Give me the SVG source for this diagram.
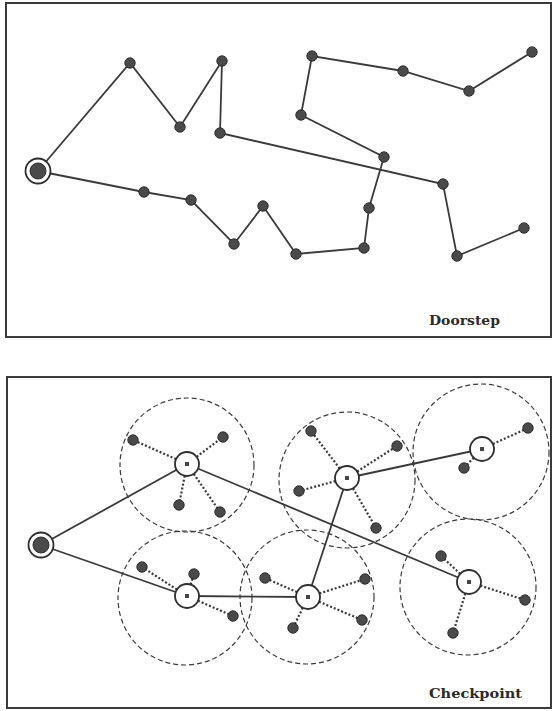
<svg xmlns="http://www.w3.org/2000/svg" width="553" height="711" viewBox="0 0 553 711">
<style>
.panel{fill:#fff;stroke:#3a3a3a;stroke-width:2}
.ln{stroke:#3a3a3a;stroke-width:1.8;fill:none}
.dot{stroke:#3a3a3a;stroke-width:2.2;stroke-dasharray:2 2;fill:none}
.zone{stroke:#3c3c3c;stroke-width:1.2;stroke-dasharray:5 3;fill:none}
.n{fill:#4a4a4a;stroke:#2e2e2e;stroke-width:1}
.startO{fill:#fff;stroke:#2e2e2e;stroke-width:1.8}
.cp{fill:#fff;stroke:#2e2e2e;stroke-width:1.8}
.sq{fill:#444}
.lbl{font-family:"DejaVu Serif",serif;font-weight:bold;font-size:13.5px;fill:#2a2a2a}
</style>
<rect width="553" height="711" fill="#fff"/>
<rect class="panel" x="6" y="3" width="545" height="334"/>
<rect class="panel" x="7" y="377" width="544" height="331"/>

<g id="connectors">
<polyline class="ln" points="38,171 130,63 180,127 222,61 220,133 443,184 457,256 524,228"/>
<polyline class="ln" points="38,171 144,192 191,200 234,244 263,206 296,254 364,248 369,208 384,157 301,115 312,56 403,71 469,91 532,52"/>
<g id="zones">
<circle class="zone" cx="187" cy="465" r="67"/>
<circle class="zone" cx="185" cy="598" r="67"/>
<circle class="zone" cx="307" cy="597" r="67"/>
<circle class="zone" cx="347" cy="480" r="68"/>
<circle class="zone" cx="481" cy="452" r="68"/>
<circle class="zone" cx="468" cy="587" r="68"/>
</g>
<line class="ln" x1="41" y1="545" x2="187" y2="464"/>
<line class="ln" x1="41" y1="545" x2="187" y2="596"/>
<line class="ln" x1="187" y1="464" x2="469" y2="582"/>
<line class="ln" x1="187" y1="596" x2="308" y2="597"/>
<line class="ln" x1="308" y1="597" x2="347" y2="478"/>
<line class="ln" x1="347" y1="478" x2="482" y2="449"/>
<path class="dot" d="M187,464L133,440M187,464L223,437M187,464L179,505M187,464L220,512"/>
<path class="dot" d="M187,596L142,567M187,596L194,574M187,596L233,616"/>
<path class="dot" d="M308,597L265,578M308,597L365,579M308,597L362,620M308,597L293,628"/>
<path class="dot" d="M347,478L311,431M347,478L397,446M347,478L299,491M347,478L376,528"/>
<path class="dot" d="M482,449L528,428M482,449L464,468"/>
<path class="dot" d="M469,582L441,556M469,582L525,600M469,582L453,633"/>
</g>

<g id="doorstep-start"><circle class="startO" cx="38" cy="171" r="12.5"/><circle class="n" cx="38" cy="171" r="8"/></g>
<g id="doorstep-nodes">
<circle class="n" cx="130" cy="63" r="5.2"/>
<circle class="n" cx="180" cy="127" r="5.2"/>
<circle class="n" cx="222" cy="61" r="5.2"/>
<circle class="n" cx="220" cy="133" r="5.2"/>
<circle class="n" cx="443" cy="184" r="5.2"/>
<circle class="n" cx="457" cy="256" r="5.2"/>
<circle class="n" cx="524" cy="228" r="5.2"/>
<circle class="n" cx="144" cy="192" r="5.2"/>
<circle class="n" cx="191" cy="200" r="5.2"/>
<circle class="n" cx="234" cy="244" r="5.2"/>
<circle class="n" cx="263" cy="206" r="5.2"/>
<circle class="n" cx="296" cy="254" r="5.2"/>
<circle class="n" cx="364" cy="248" r="5.2"/>
<circle class="n" cx="369" cy="208" r="5.2"/>
<circle class="n" cx="384" cy="157" r="5.2"/>
<circle class="n" cx="301" cy="115" r="5.2"/>
<circle class="n" cx="312" cy="56" r="5.2"/>
<circle class="n" cx="403" cy="71" r="5.2"/>
<circle class="n" cx="469" cy="91" r="5.2"/>
<circle class="n" cx="532" cy="52" r="5.2"/>
</g>
<text class="lbl" x="429" y="325" textLength="71" lengthAdjust="spacingAndGlyphs">Doorstep</text>

<g id="checkpoint-start"><circle class="startO" cx="41" cy="545" r="12.5"/><circle class="n" cx="41" cy="545" r="8"/></g>
<g id="checkpoint-satellites">
<circle class="n" cx="133" cy="440" r="5.2"/><circle class="n" cx="223" cy="437" r="5.2"/><circle class="n" cx="179" cy="505" r="5.2"/><circle class="n" cx="220" cy="512" r="5.2"/>
<circle class="n" cx="142" cy="567" r="5.2"/><circle class="n" cx="194" cy="574" r="5.2"/><circle class="n" cx="233" cy="616" r="5.2"/>
<circle class="n" cx="265" cy="578" r="5.2"/><circle class="n" cx="365" cy="579" r="5.2"/><circle class="n" cx="362" cy="620" r="5.2"/><circle class="n" cx="293" cy="628" r="5.2"/>
<circle class="n" cx="311" cy="431" r="5.2"/><circle class="n" cx="397" cy="446" r="5.2"/><circle class="n" cx="299" cy="491" r="5.2"/><circle class="n" cx="376" cy="528" r="5.2"/>
<circle class="n" cx="528" cy="428" r="5.2"/><circle class="n" cx="464" cy="468" r="5.2"/>
<circle class="n" cx="441" cy="556" r="5.2"/><circle class="n" cx="525" cy="600" r="5.2"/><circle class="n" cx="453" cy="633" r="5.2"/>
</g>
<g id="cp1"><circle class="cp" cx="187" cy="464" r="12"/><rect class="sq" x="185" y="462" width="4" height="4"/></g>
<g id="cp2"><circle class="cp" cx="187" cy="596" r="12"/><rect class="sq" x="185" y="594" width="4" height="4"/></g>
<g id="cp3"><circle class="cp" cx="308" cy="597" r="12"/><rect class="sq" x="306" y="595" width="4" height="4"/></g>
<g id="cp4"><circle class="cp" cx="347" cy="478" r="12"/><rect class="sq" x="345" y="476" width="4" height="4"/></g>
<g id="cp5"><circle class="cp" cx="482" cy="449" r="12"/><rect class="sq" x="480" y="447" width="4" height="4"/></g>
<g id="cp6"><circle class="cp" cx="469" cy="582" r="12"/><rect class="sq" x="467" y="580" width="4" height="4"/></g>
<text class="lbl" x="429" y="698" textLength="93" lengthAdjust="spacingAndGlyphs">Checkpoint</text>
</svg>
